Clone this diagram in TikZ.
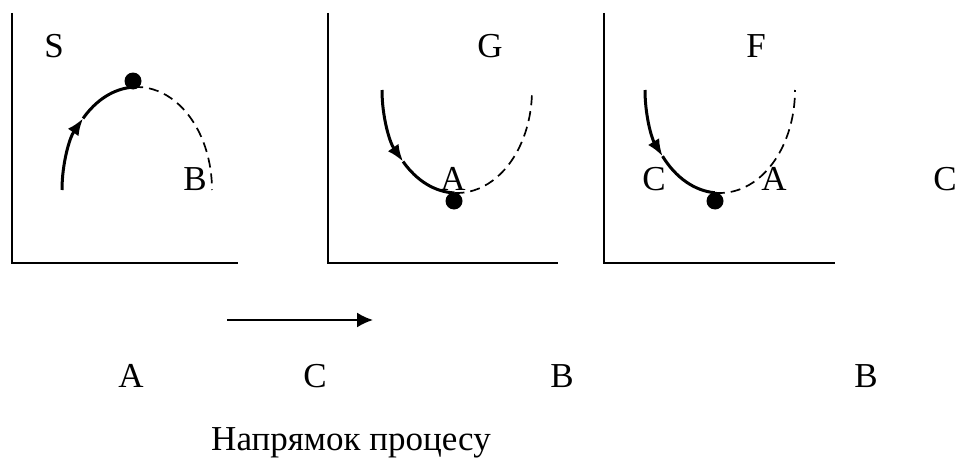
\documentclass[tikz,border=0pt]{standalone}
\usepackage{fontspec}
\setmainfont{Liberation Serif}
\usetikzlibrary{arrows.meta}
\tikzset{every node/.style={inner sep=0pt, anchor=base}, >={Latex[length=16pt,width=15pt]},
  font=\fontsize{35}{42}\selectfont,
  axis/.style={line width=2pt},
  traj/.style={line width=3pt},
  rest/.style={line width=1.7pt, dash pattern=on 10pt off 6pt},
  dot/.style={circle, fill, minimum size=17pt, inner sep=0pt, anchor=center},
  tip/.style={-{Latex[length=17pt,width=13pt]}}}

\begin{document}
\begin{tikzpicture}[x=1pt, y=1pt]
  \useasboundingbox (0,0) rectangle (960,459);
  % axes
  \coordinate (o1) at (12,196);  \draw[axis] (12,446) -- (o1) -- (238,196);
  \coordinate (o2) at (328,196); \draw[axis] (328,446) -- (o2) -- (558,196);
  \coordinate (o3) at (604,196); \draw[axis] (604,446) -- (o3) -- (835,196);
  % first panel
  \coordinate (c1) at (137,269);
  \draw[traj, tip] (c1) ++(180:75pt and 103pt) arc[start angle=180, end angle=136, x radius=75pt, y radius=103pt];
  \draw[traj] (c1) ++(136:75pt and 103pt) arc[start angle=136, end angle=93, x radius=75pt, y radius=103pt];
  \draw[rest] (c1) ++(93:75pt and 103pt) arc[start angle=93, end angle=0, x radius=75pt, y radius=103pt];
  \node [dot] (p1) at (133,378) {};
  \node (s) at (54,401) {S};
  \node (b1) at (195,269) {B};
  % second panel
  \coordinate (c2) at (457,369);
  \draw[traj, tip] (c2) ++(180:75pt and 103pt) arc[start angle=180, end angle=224, x radius=75pt, y radius=103pt];
  \draw[traj] (c2) ++(224:75pt and 103pt) arc[start angle=224, end angle=268, x radius=75pt, y radius=103pt];
  \draw[rest] (c2) ++(268:75pt and 103pt) arc[start angle=268, end angle=360, x radius=75pt, y radius=103pt];
  \node [dot] (p2) at (454,258) {};
  \node (g) at (490,401) {G};
  \node (a2) at (453,269) {A};
  % third panel
  \coordinate (c3) at (720,369);
  \draw[traj, tip] (c3) ++(180:75pt and 103pt) arc[start angle=180, end angle=220, x radius=75pt, y radius=103pt];
  \draw[traj] (c3) ++(220:75pt and 103pt) arc[start angle=220, end angle=266, x radius=75pt, y radius=103pt];
  \draw[rest] (c3) ++(266:75pt and 103pt) arc[start angle=266, end angle=360, x radius=75pt, y radius=103pt];
  \node [dot] (p3) at (715,258) {};
  \node (f) at (756,401) {F};
  \node (c31) at (654,269) {C};
  \node (a3) at (774,269) {A};
  \node (c32) at (945,269) {C};
  % direction
  \coordinate (d0) at (227,139);
  \coordinate (d1) at (373,139);
  \draw[line width=2pt, ->] (d0) -- (d1);
  \node (la) at (131,72) {A};
  \node (lc) at (315,72) {C};
  \node (lb1) at (562,72) {B};
  \node (lb2) at (866,72) {B};
  \node (dir) at (351,9) {Напрямок процесу};
\end{tikzpicture}
\end{document}
